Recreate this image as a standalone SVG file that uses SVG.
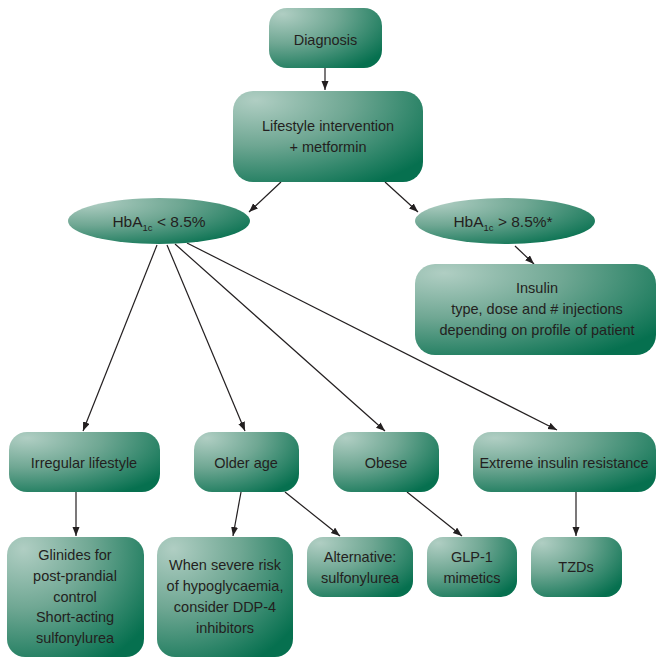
<svg xmlns="http://www.w3.org/2000/svg" width="657" height="660" viewBox="0 0 657 660">
<defs>
<radialGradient id="g" cx="0.12" cy="0.1" r="1.1" fx="0.12" fy="0.1">
<stop offset="0" stop-color="#b0cec3"/>
<stop offset="0.45" stop-color="#6fa793"/>
<stop offset="1" stop-color="#06704f"/>
</radialGradient>
<marker id="ah" markerUnits="userSpaceOnUse" markerWidth="10" markerHeight="8" refX="9" refY="3.5" orient="auto">
<path d="M0,0 L9,3.5 L0,7 Z" fill="#231f20"/>
</marker>
</defs>
<style>
.n{fill:url(#g);}
.t{font-family:"Liberation Sans",Arial,sans-serif;font-size:14.5px;fill:#231f20;text-anchor:middle;}
.h{font-size:15.5px;}
.s{font-size:9.5px;}
.c line{stroke:#231f20;stroke-width:1.2;marker-end:url(#ah);}
</style>
<rect width="657" height="660" fill="#ffffff"/>
<g id="connectors" class="c">
<line x1="325" y1="68" x2="325" y2="90"/>
<line x1="281" y1="182" x2="249" y2="212"/>
<line x1="385" y1="182" x2="418" y2="212"/>
<line x1="515" y1="246" x2="534" y2="264"/>
<line x1="157" y1="245" x2="83" y2="431"/>
<line x1="167" y1="245" x2="245" y2="431"/>
<line x1="175" y1="244" x2="385" y2="431"/>
<line x1="187" y1="243" x2="557" y2="430"/>
<line x1="76" y1="492" x2="76" y2="536"/>
<line x1="241" y1="492" x2="233" y2="536"/>
<line x1="285" y1="492" x2="340" y2="536"/>
<line x1="407" y1="492" x2="462" y2="536"/>
<line x1="576" y1="492" x2="576" y2="536"/>
</g>
<g id="diagnosis">
<rect class="n" x="269" y="8" width="113" height="60" rx="18"/>
<text class="t" x="325.5" y="45">Diagnosis</text>
</g>
<g id="lifestyle">
<rect class="n" x="233" y="91" width="190" height="91" rx="20"/>
<text class="t" x="328" y="131">Lifestyle intervention</text>
<text class="t" x="328" y="152">+ metformin</text>
</g>
<g id="hba-low">
<ellipse class="n" cx="159" cy="221" rx="91" ry="23"/>
<text class="t h" x="159" y="227">HbA<tspan class="s" dy="4">1c</tspan><tspan dy="-4"> &lt; 8.5%</tspan></text>
</g>
<g id="hba-high">
<ellipse class="n" cx="505" cy="221" rx="90" ry="23"/>
<text class="t h" x="503" y="227">HbA<tspan class="s" dy="4">1c</tspan><tspan dy="-4"> &gt; 8.5%*</tspan></text>
</g>
<g id="insulin">
<rect class="n" x="415" y="264" width="241" height="91" rx="20"/>
<text class="t" x="537" y="293">Insulin</text>
<text class="t" x="537" y="314">type, dose and # injections</text>
<text class="t" x="537" y="335">depending on profile of patient</text>
</g>
<g id="irregular">
<rect class="n" x="9" y="432" width="151" height="60" rx="18"/>
<text class="t" x="84" y="468">Irregular lifestyle</text>
</g>
<g id="older">
<rect class="n" x="194" y="432" width="105" height="60" rx="18"/>
<text class="t" x="246" y="468">Older age</text>
</g>
<g id="obese">
<rect class="n" x="333" y="432" width="106" height="60" rx="18"/>
<text class="t" x="386" y="468">Obese</text>
</g>
<g id="extreme">
<rect class="n" x="473" y="432" width="183" height="60" rx="18"/>
<text class="t" x="564" y="468">Extreme insulin resistance</text>
</g>
<g id="glinides">
<rect class="n" x="7" y="537" width="137" height="120" rx="18"/>
<text class="t" x="75" y="560">Glinides for</text>
<text class="t" x="75" y="581">post-prandial</text>
<text class="t" x="75" y="602">control</text>
<text class="t" x="75" y="622">Short-acting</text>
<text class="t" x="75" y="643">sulfonylurea</text>
</g>
<g id="severe">
<rect class="n" x="157" y="537" width="136" height="120" rx="18"/>
<text class="t" x="225" y="570">When severe risk</text>
<text class="t" x="225" y="591">of hypoglycaemia,</text>
<text class="t" x="225" y="612">consider DDP-4</text>
<text class="t" x="225" y="633">inhibitors</text>
</g>
<g id="alternative">
<rect class="n" x="307" y="537" width="106" height="60" rx="16"/>
<text class="t" x="360" y="562">Alternative:</text>
<text class="t" x="360" y="583">sulfonylurea</text>
</g>
<g id="glp1">
<rect class="n" x="427" y="537" width="90" height="60" rx="16"/>
<text class="t" x="472" y="562">GLP-1</text>
<text class="t" x="472" y="583">mimetics</text>
</g>
<g id="tzds">
<rect class="n" x="531" y="537" width="91" height="60" rx="16"/>
<text class="t" x="576" y="572">TZDs</text>
</g>
</svg>
